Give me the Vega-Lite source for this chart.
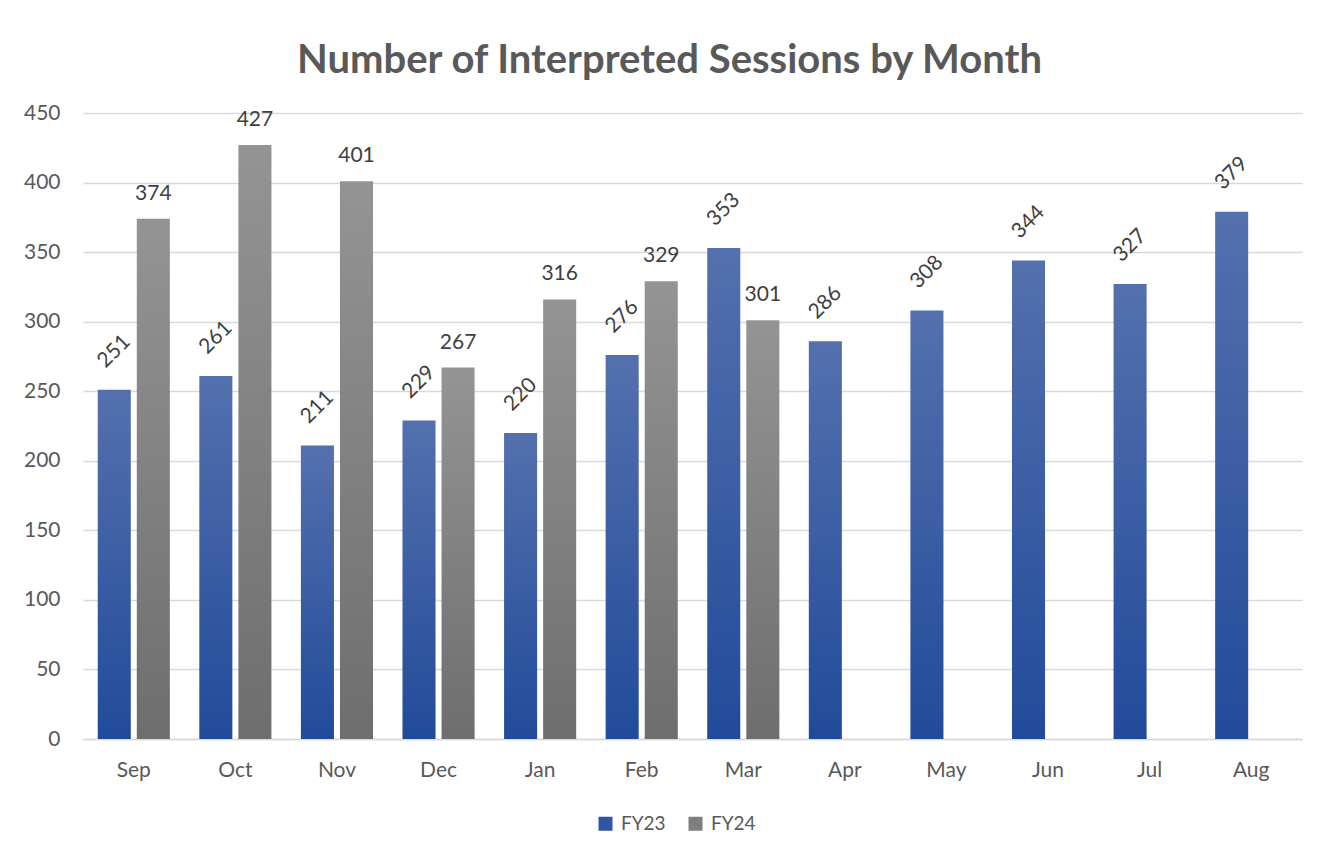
{
  "$schema": "https://vega.github.io/schema/vega-lite/v6.json",
  "autosize": "none",
  "width": 1219,
  "height": 626,
  "padding": {"left": 83, "top": 113, "right": 28, "bottom": 120},
  "background": "white",
  "title": {
    "text": "Number of Interpreted Sessions by Month",
    "font": "Lato",
    "fontSize": 40,
    "fontWeight": "bold",
    "color": "#595959",
    "anchor": "middle",
    "dx": -23,
    "offset": 21
  },
  "config": {
    "view": {"stroke": null},
    "font": "Lato"
  },
  "data": {
    "values": [
      {"Month": "Sep", "Series": "FY23", "Sessions": 251},
      {"Month": "Oct", "Series": "FY23", "Sessions": 261},
      {"Month": "Nov", "Series": "FY23", "Sessions": 211},
      {"Month": "Dec", "Series": "FY23", "Sessions": 229},
      {"Month": "Jan", "Series": "FY23", "Sessions": 220},
      {"Month": "Feb", "Series": "FY23", "Sessions": 276},
      {"Month": "Mar", "Series": "FY23", "Sessions": 353},
      {"Month": "Apr", "Series": "FY23", "Sessions": 286},
      {"Month": "May", "Series": "FY23", "Sessions": 308},
      {"Month": "Jun", "Series": "FY23", "Sessions": 344},
      {"Month": "Jul", "Series": "FY23", "Sessions": 327},
      {"Month": "Aug", "Series": "FY23", "Sessions": 379},
      {"Month": "Sep", "Series": "FY24", "Sessions": 374},
      {"Month": "Oct", "Series": "FY24", "Sessions": 427},
      {"Month": "Nov", "Series": "FY24", "Sessions": 401},
      {"Month": "Dec", "Series": "FY24", "Sessions": 267},
      {"Month": "Jan", "Series": "FY24", "Sessions": 316},
      {"Month": "Feb", "Series": "FY24", "Sessions": 329},
      {"Month": "Mar", "Series": "FY24", "Sessions": 301}
    ]
  },
  "encoding": {
    "x": {
      "field": "Month",
      "type": "nominal",
      "sort": ["Sep", "Oct", "Nov", "Dec", "Jan", "Feb", "Mar", "Apr", "May", "Jun", "Jul", "Aug"],
      "scale": {"paddingInner": 0.29, "paddingOuter": 0.145},
      "axis": {
        "title": null,
        "labelAngle": 0,
        "labelFont": "Lato",
        "labelFontSize": 21,
        "labelColor": "#595959",
        "labelPadding": 20,
        "ticks": false,
        "domainColor": "#d9d9d9",
        "domainWidth": 1.5
      }
    },
    "xOffset": {
      "field": "Series",
      "type": "nominal",
      "scale": {"domain": ["FY23", "FY24"], "paddingInner": 0.154, "paddingOuter": 0}
    },
    "y": {
      "field": "Sessions",
      "type": "quantitative",
      "scale": {"domain": [0, 450], "nice": false},
      "axis": {
        "title": null,
        "values": [0, 50, 100, 150, 200, 250, 300, 350, 400, 450],
        "labelFont": "Lato",
        "labelFontSize": 21,
        "labelColor": "#595959",
        "labelPadding": 23,
        "ticks": false,
        "domain": false,
        "gridColor": "#d9d9d9",
        "gridWidth": 1.5
      }
    }
  },
  "layer": [
    {
      "mark": {"type": "bar"},
      "encoding": {
        "color": {
          "field": "Series",
          "type": "nominal",
          "scale": {"domain": ["FY23", "FY24"], "range": ["#2f55a4", "#7f7f7f"]},
          "condition": [
            {
              "test": "datum.Series === 'FY23'",
              "value": {
                "gradient": "linear", "x1": 0, "y1": 0, "x2": 0, "y2": 1,
                "stops": [{"offset": 0, "color": "#5470ae"}, {"offset": 1, "color": "#214b9a"}]
              }
            },
            {
              "test": "datum.Series === 'FY24'",
              "value": {
                "gradient": "linear", "x1": 0, "y1": 0, "x2": 0, "y2": 1,
                "stops": [{"offset": 0, "color": "#949494"}, {"offset": 1, "color": "#6e6e6e"}]
              }
            }
          ],
          "legend": {
            "title": null,
            "orient": "none",
            "legendX": 513,
            "legendY": 701,
            "direction": "horizontal",
            "symbolType": "square",
            "symbolSize": 196,
            "symbolStrokeWidth": 0,
            "labelFont": "Lato",
            "labelFontSize": 19,
            "labelColor": "#595959",
            "labelOffset": 6,
            "columnPadding": 20,
            "padding": 0
          }
        }
      }
    },
    {
      "transform": [{"filter": "datum.Series === 'FY24'"}],
      "mark": {"type": "text", "align": "center", "baseline": "middle", "dy": -25, "font": "Lato", "fontSize": 21, "color": "#404040"},
      "encoding": {"text": {"field": "Sessions", "type": "quantitative"}}
    },
    {
      "transform": [{"filter": "datum.Series === 'FY23'"}],
      "mark": {"type": "text", "align": "center", "baseline": "middle", "angle": -45, "dx": 27, "dy": -27, "font": "Lato", "fontSize": 21, "color": "#404040"},
      "encoding": {"text": {"field": "Sessions", "type": "quantitative"}}
    }
  ]
}
